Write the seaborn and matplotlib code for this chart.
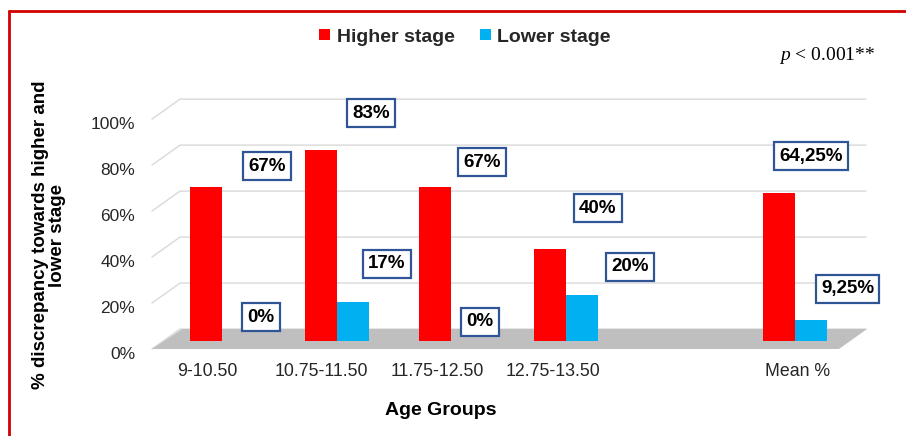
import numpy as np
import pandas as pd
import matplotlib
matplotlib.use("Agg")
import matplotlib.pyplot as plt
import seaborn as sns
from matplotlib.patches import Polygon
from matplotlib.lines import Line2D
from matplotlib.font_manager import FontProperties

# ---------------- data ----------------
categories = ["9-10.50", "10.75-11.50", "11.75-12.50", "12.75-13.50", "", "Mean %"]
higher_stage = [67, 83, 67, 40, np.nan, 64.25]
lower_stage = [0, 17, 0, 20, np.nan, 9.25]
series_names = ["Higher stage", "Lower stage"]
y_ticks = [0, 20, 40, 60, 80, 100]

# ---------------- layout (not data) ----------------
higher_label_offsets = [(0.39, 9.1), (0.30, 16.1), (0.27, 10.8), (0.28, 17.8), None, (0.14, 16.2)]
lower_label_offsets = [(0.34, 10.4), (0.44, 16.5), (0.25, 8.3), (0.56, 12.2), None, (0.46, 13.4)]
tick_dx = [-0.13, -0.13, -0.12, -0.11, 0.0, 0.02]

sns.set_theme(style="white")
plt.rcParams["font.family"] = ["Liberation Sans", "DejaVu Sans"]
plt.rcParams["mathtext.fontset"] = "custom"
plt.rcParams["mathtext.it"] = "Liberation Serif:italic"
plt.rcParams["mathtext.rm"] = "Liberation Serif"

rows = []
for c, h, l in zip(categories, higher_stage, lower_stage):
    rows.append({"group": c, "series": series_names[0], "value": h})
    rows.append({"group": c, "series": series_names[1], "value": l})
df = pd.DataFrame(rows).dropna()

W, H = 906, 436
fig = plt.figure(figsize=(W / 100, H / 100), dpi=100)
fig.patch.set_facecolor("white")

# axes placement in pixels
ax_left, ax_right, ax_top, ax_bottom = 140, 880, 92, 360
ax = fig.add_axes([ax_left / W, 1 - ax_bottom / H, (ax_right - ax_left) / W, (ax_bottom - ax_top) / H])

palette = {"Higher stage": "#FF0000", "Lower stage": "#00B0F0"}
sns.barplot(data=df, x="group", y="value", hue="series", order=categories,
            hue_order=series_names, palette=palette, width=0.558, ax=ax,
            saturation=1, zorder=3, errorbar=None, linewidth=0, edgecolor="none")

ax.set_xlim(-0.7155, 5.742)
ax.set_ylim(-8.26, 108.3)

# pseudo-3D floor and gridlines (decoration)
floor = Polygon([(-0.611, -3.48), (5.384, -3.48), (5.628, 5.2), (-0.349, 5.2)],
                closed=True, facecolor="#BFBFBF", edgecolor="none", zorder=1)
ax.add_patch(floor)
for v in y_ticks:
    ax.plot([-0.611, -0.3665, 5.62], [v - 3.5, v + 5.2, v + 5.2],
            color="#D9D9D9", lw=1.0, zorder=0.5)

# value labels
box = dict(boxstyle="square,pad=0.28", facecolor="white", edgecolor="#2F5597", linewidth=1.6)
def fmt(v):
    return f"{v:g}%".replace(".", ",")
for i, (vals, offs) in enumerate([(higher_stage, higher_label_offsets), (lower_stage, lower_label_offsets)]):
    for k, (v, o) in enumerate(zip(vals, offs)):
        if o is None or np.isnan(v):
            continue
        ax.text(k + o[0], v + o[1], fmt(v), ha="center", va="center", fontsize=13.5,
                fontweight="bold", color="black", bbox=box, zorder=5)

# axes styling
for s in ax.spines.values():
    s.set_visible(False)
ax.set_yticks([v - 5 for v in y_ticks])
ax.set_yticklabels([f"{v}%" for v in y_ticks])
ax.set_xticks([k + d for k, d in enumerate(tick_dx)])
ax.set_xticklabels(categories)
ax.tick_params(axis="y", length=0, pad=3.5, labelsize=12.5, labelcolor="#262626")
ax.tick_params(axis="x", length=0, pad=2, labelsize=12.8, labelcolor="#262626")
ax.set_xlabel("")
ax.set_ylabel("")
ax.grid(False)

# legend
handles, labels = ax.get_legend_handles_labels()
ax.legend(handles, labels, loc="center", bbox_to_anchor=(465 / W, 1 - 37 / H),
          bbox_transform=fig.transFigure, ncol=2, frameon=False, handlelength=0.55,
          handleheight=0.55, handletextpad=0.35, columnspacing=1.3,
          prop=FontProperties(family="Liberation Sans", weight="bold", size=14))

# titles / labels
fig.text(441 / W, 1 - 410 / H, "Age Groups", ha="center", va="center", fontsize=14,
         fontweight="bold", color="black")
fig.text(49 / W, 1 - 235 / H, "% discrepancy towards higher and\nlower stage", rotation=90,
         ha="center", va="center", multialignment="center", fontsize=13.5,
         fontweight="bold", color="black", linespacing=1.05)
fig.text(875 / W, 1 - 55 / H, r"$p$ < 0.001**", ha="right", va="center", fontsize=14,
         family="Liberation Serif", color="black")

# red frame (left and top edges)
fig.add_artist(Line2D([9 / W, 9 / W], [0, 1 - 11 / H], transform=fig.transFigure, color="#D00000", lw=2))
fig.add_artist(Line2D([9 / W, 1], [1 - 11 / H, 1 - 11 / H], transform=fig.transFigure, color="#D00000", lw=2))

fig.savefig("out.png", dpi=100, facecolor="white")
